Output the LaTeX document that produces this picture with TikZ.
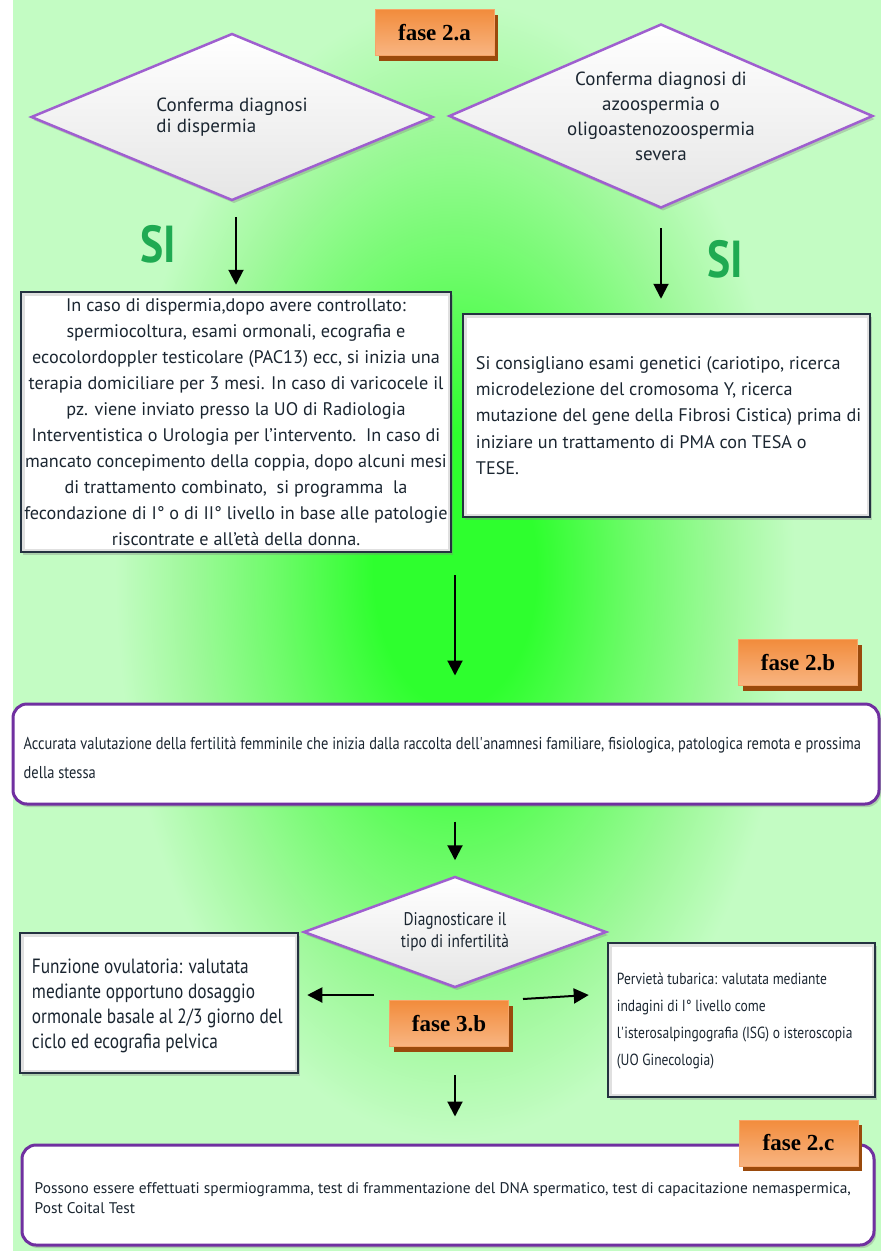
\documentclass[tikz,border=0pt]{standalone}
\usepackage{fontspec}
\setmainfont{PT Sans}
\newfontfamily\narrowfont[FakeStretch=0.84]{PT Sans}
\newfontfamily\timesfont{Liberation Serif}
\usetikzlibrary{shapes.geometric,arrows.meta,shadows,calc}
\definecolor{bgbase}{HTML}{C3FCC3}
\definecolor{glowA}{HTML}{2EFF2E}
\definecolor{glowB}{HTML}{6CFB68}
\definecolor{glowC}{HTML}{A2F99E}
\definecolor{txt}{HTML}{1B2631}
\definecolor{dpurple}{HTML}{7030A0}
\definecolor{lpurple}{HTML}{9F5FCF}
\definecolor{navy}{HTML}{243240}
\definecolor{orTop}{HTML}{F28C3C}
\definecolor{orBot}{HTML}{F8B582}
\definecolor{orEdge}{HTML}{F6A468}
\definecolor{orShadow}{HTML}{9A4A0C}
\definecolor{sigreen}{HTML}{1FAA52}
\pgfdeclareradialshading{bgglow}{\pgfpoint{0bp}{0bp}}{color(0bp)=(glowA); color(6bp)=(glowA); color(13bp)=(glowB); color(20bp)=(glowC); color(25bp)=(bgbase); color(50bp)=(bgbase)}
\begin{document}
\begin{tikzpicture}[x=1pt,y=-1pt,
  fasebox/.style={rectangle, minimum width=119pt, minimum height=46pt, top color=orTop, bottom color=orBot, draw=orEdge, line width=1pt, text=black, font=\timesfont\bfseries\fontsize{23}{26}\selectfont, drop shadow={shadow xshift=4pt, shadow yshift=-5pt, fill=orShadow, opacity=1}},
  tbox/.style={rectangle, draw=navy, line width=2.5pt, fill=white, text=txt, inner sep=0pt,
    drop shadow={shadow xshift=2pt, shadow yshift=-3pt, opacity=0.35},
    path picture={\draw[black!12, line width=7pt] (path picture bounding box.south west) rectangle (path picture bounding box.north east);}},
  dia/.style={diamond, draw=lpurple, line width=2.5pt, top color=white, bottom color=black!10, text=txt, inner sep=0pt,
    drop shadow={shadow xshift=2pt, shadow yshift=-3pt, opacity=0.35}},
  rbox/.style={rectangle, rounded corners=14pt, draw=dpurple, line width=3pt, fill=white, inner sep=0pt,
    drop shadow={shadow xshift=2pt, shadow yshift=-3pt, opacity=0.35}},
  btext/.style={anchor=west, align=left, text=txt, inner sep=0pt},
  si/.style={text=sigreen, font=\narrowfont\bfseries\fontsize{52}{56}\selectfont},
  arr/.style={line width=2pt, -{Triangle[width=15pt,length=15pt]}}
]
\useasboundingbox (0,0) rectangle (881,1251);
\fill[white] (0,0) rectangle (881,1251);
\fill[bgbase] (13,0) rectangle (881,1251);
\begin{scope}
\clip (13,0) rectangle (881,1251);
\shade[shading=bgglow] (455,570) ellipse [x radius=340, y radius=570];
\end{scope}

% diamonds
\node[dia, aspect=2.4, minimum width=402pt, minimum height=167pt, align=left, font=\fontsize{19}{21}\selectfont] (d1) at (232,117) {Conferma diagnosi\\di dispermia};
\node[dia, aspect=2.3, minimum width=424pt, minimum height=184pt, align=center, font=\fontsize{19}{25}\selectfont] (d2) at (661,116) {Conferma diagnosi di\\azoospermia o\\oligoastenozoospermia\\severa};

\node[fasebox] (f2a) at (434.5,32.5) {fase 2.a};

\node[si] (si1) at (158,244) {SI};
\node[si] (si2) at (725,259) {SI};

% text boxes
\node[tbox, minimum width=430pt, minimum height=260pt, align=center, font=\fontsize{18.2}{26}\selectfont] (b1) at (236,422) {In caso di dispermia,dopo avere controllato:\\spermiocoltura, esami ormonali, ecografia e\\ecocolordoppler testicolare (PAC13) ecc, si inizia una\\terapia domiciliare per 3 mesi. In caso di varicocele il\\pz. viene inviato presso la UO di Radiologia\\Interventistica o Urologia per l’intervento.\ \ In caso di\\mancato concepimento della coppia, dopo alcuni mesi\\di trattamento combinato,\ \ si programma\ \ la\\fecondazione di I° o di II° livello in base alle patologie\\riscontrate e all’età della donna.};

\node[tbox, minimum width=407pt, minimum height=203pt] (b2) at (666.5,415.5) {};
\node[btext, font=\fontsize{18.2}{26.2}\selectfont] (b2t) at ([xshift=14pt]b2.west) {Si consigliano esami genetici (cariotipo, ricerca\\microdelezione del cromosoma Y, ricerca\\mutazione del gene della Fibrosi Cistica) prima di\\iniziare un trattamento di PMA con TESA o\\TESE.};

\node[fasebox] (f2b) at (798,662.5) {fase 2.b};
\node[rbox, minimum width=866pt, minimum height=100pt] (bb) at (446,754) {};
\node[btext, font=\narrowfont\fontsize{17.2}{29}\selectfont] (bbt) at ([xshift=12pt,yshift=-3.5pt]bb.west) {Accurata valutazione della fertilità femminile che inizia dalla raccolta dell\textquotesingle anamnesi familiare, fisiologica, patologica remota e prossima\\della stessa};

\node[dia, aspect=2.73, minimum width=303pt, minimum height=111pt, align=center, font=\narrowfont\fontsize{18.3}{22}\selectfont] (d3) at (455,932) {Diagnosticare il\\tipo di infertilità};

\node[tbox, minimum width=278pt, minimum height=140pt] (f1) at (159,1003) {};
\node[btext, font=\narrowfont\fontsize{20.6}{25}\selectfont] (f1t) at ([xshift=13pt,yshift=-2.5pt]f1.west) {Funzione ovulatoria: valutata\\mediante opportuno dosaggio\\ormonale basale al 2/3 giorno del\\ciclo ed ecografia pelvica};
\node[tbox, minimum width=267pt, minimum height=154pt] (f2) at (741.5,1020) {};
\node[btext, font=\narrowfont\fontsize{16.1}{27.3}\selectfont] (f2t) at ([xshift=10pt,yshift=-1pt]f2.west) {Pervietà tubarica: valutata mediante\\indagini di I° livello come\\l\textquotesingle isterosalpingografia (ISG) o isteroscopia\\(UO Ginecologia)};

\node[fasebox] (f3b) at (449,1023.5) {fase 3.b};

\node[rbox, minimum width=852pt, minimum height=100pt] (cc) at (448,1195) {};
\node[btext, font=\fontsize{15.4}{20}\selectfont] (cct) at ([xshift=14pt,yshift=-3pt]cc.west) {Possono essere effettuati spermiogramma, test di frammentazione del DNA spermatico, test di capacitazione nemaspermica,\\Post Coital Test};
\node[fasebox] (f2c) at (798.5,1143) {fase 2.c};

% connectors
\coordinate (m1) at (455,575);
\coordinate (la) at (374,995);
\coordinate (ra) at (523,999);
\coordinate (m3) at (455,1075);
\draw[arr, shorten <=15pt, shorten >=6pt] (b1.north |- d1.south) -- (b1.north);
\draw[arr, shorten <=19pt, shorten >=14pt] (d2.south) -- (d2.south |- b2.north);
\draw[arr, shorten >=27pt] (m1) -- (m1 |- bb.north);
\draw[arr, shorten <=16pt, shorten >=15pt] (bb.south -| d3.north) -- (d3.north);
\draw[arr, shorten >=8pt] (la) -- (la -| f1.east);
\draw[arr] (ra) -- ([xshift=-18pt,yshift=25pt]f2.west);
\draw[arr, shorten >=27pt] (m3) -- (m3 |- cc.north);
\end{tikzpicture}
\end{document}
